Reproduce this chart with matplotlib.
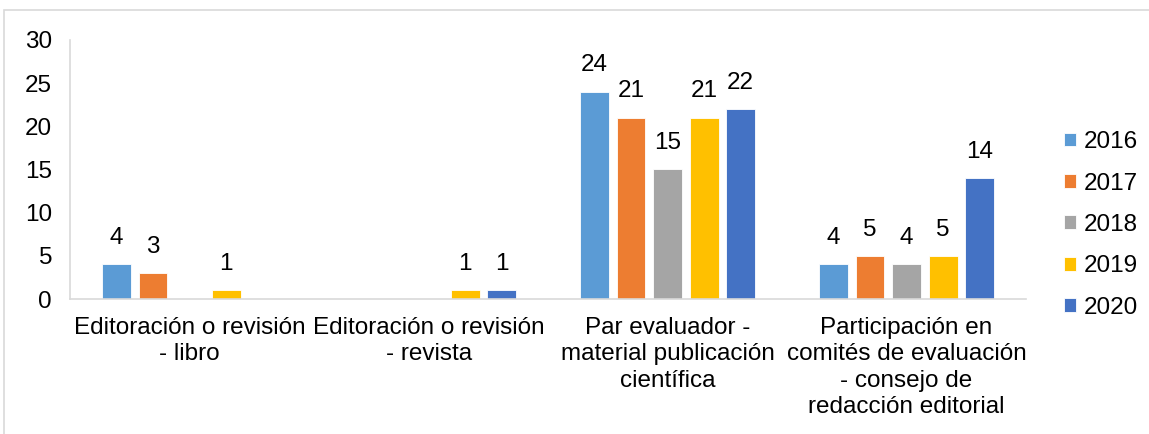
import numpy as np
import matplotlib
matplotlib.use("Agg")
import matplotlib.pyplot as plt
from matplotlib.patches import Rectangle

# data
categories = [
    "Editoración o revisión\n- libro",
    "Editoración o revisión\n- revista",
    "Par evaluador -\nmaterial publicación\ncientífica",
    "Participación en\ncomités de evaluación\n- consejo de\nredacción editorial",
]
years = ["2016", "2017", "2018", "2019", "2020"]
v2016 = [4, 0, 24, 4]
v2017 = [3, 0, 21, 5]
v2018 = [0, 0, 15, 4]
v2019 = [1, 1, 21, 5]
v2020 = [0, 1, 22, 14]
colors = ["#5B9BD5", "#ED7D31", "#A5A5A5", "#FFC000", "#4472C4"]

plt.rcParams['font.family'] = ['Liberation Sans', 'DejaVu Sans']
fs = 17.5

fig = plt.figure(figsize=(11.49, 4.34), dpi=100)
ax = fig.add_axes([0.061, 0.311, 0.832, 0.597])

# outer chart frame (runs off the right and bottom edges)
fig.patches.append(Rectangle((0.0035, -0.05), 1.05, 1.027, transform=fig.transFigure,
                             fill=False, edgecolor="#D9D9D9", lw=1.2))

x = np.arange(len(categories))
step = 0.153
width = 0.121
series = [v2016, v2017, v2018, v2019, v2020]
for i, (vals, col, yr) in enumerate(zip(series, colors, years)):
    bars = ax.bar(x + (i - 2) * step, vals, width, color=col, label=yr,
                  edgecolor="white", linewidth=0.6)
    labels = [str(v) if v != 0 else "" for v in vals]
    ax.bar_label(bars, labels=labels, padding=11, fontsize=fs)

ax.set_xlim(-0.5, len(categories) - 0.5)
ax.set_ylim(0, 30)
ax.set_yticks(range(0, 31, 5))
ax.set_xticks(x)
ax.set_xticklabels(categories, linespacing=1.25)
ax.tick_params(axis="both", length=0, labelsize=fs)
ax.tick_params(axis="y", pad=13)
ax.tick_params(axis="x", pad=13)
for s in ["top", "right"]:
    ax.spines[s].set_visible(False)
for s in ["left", "bottom"]:
    ax.spines[s].set_color("#D9D9D9")
    ax.spines[s].set_linewidth(1.2)

fig.legend(loc="center left", bbox_to_anchor=(0.926, 0.4816), frameon=False,
           fontsize=fs, handlelength=0.5, handleheight=0.5, handletextpad=0.3,
           labelspacing=0.8, borderpad=0, borderaxespad=0)

fig.savefig("out.png", dpi=100)
